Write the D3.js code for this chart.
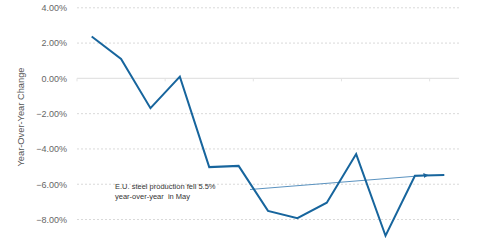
<!DOCTYPE html>
<html>
<head>
<meta charset="utf-8">
<script src="https://cdn.jsdelivr.net/npm/d3@7"></script>
<style>
  body { margin: 0; background: #fff; }
  svg { display: block; font-family: "Liberation Sans", Arial, sans-serif; }
</style>
</head>
<body>
<div id="chart"></div>
<script>
// monthly year-over-year change in E.U. steel production (%)
var months = ["May-15", "Jun-15", "Jul-15", "Aug-15", "Sep-15", "Oct-15", "Nov-15",
              "Dec-15", "Jan-16", "Feb-16", "Mar-16", "Apr-16", "May-16"];
var yoyChange = [2.37, 1.10, -1.69, 0.10, -5.03, -4.96, -7.51, -7.92, -7.05, -4.29, -8.92, -5.52, -5.47];
var yTicks = [4, 2, 0, -2, -4, -6, -8, -10];
var noteLines = ["E.U. steel production fell 5.5%", "year-over-year  in May"];

var width = 480, height = 251;
var margin = {top: 8, left: 77, right: 21};

var svg = d3.select("#chart").append("svg")
    .attr("width", width)
    .attr("height", height);

// Set the ranges
var x = d3.scaleBand()
    .domain(months)
    .range([margin.left, width - margin.right]);
var y = d3.scaleLinear()
    .domain([4, -10])
    .range([7.8, 254.8]);

// dashed gridlines
svg.append("g")
    .selectAll("line")
    .data(yTicks.filter(function(d) { return d !== 0; }))
    .join("line")
    .attr("x1", x.range()[0])
    .attr("x2", x.range()[1])
    .attr("y1", function(d) { return y(d); })
    .attr("y2", function(d) { return y(d); })
    .attr("stroke", "#d9d9d9")
    .attr("stroke-dasharray", "2,2");

// y labels
var yAxis = d3.axisLeft(y).tickValues(yTicks)
    .tickFormat(function(d) { return d3.format(".2f")(d) + "%"; })
    .tickSize(0).tickPadding(10);
svg.append("g")
    .attr("transform", "translate(" + margin.left + ",0)")
    .call(yAxis)
    .call(function(g) {
        g.select(".domain").remove();
        g.selectAll("text").attr("fill", "#666").attr("font-size", "9px")
            .attr("font-family", "Liberation Sans, Arial, sans-serif");
    });

// zero line with ticks every 3 months at band boundaries
var zeroY = y(0);
svg.append("line")
    .attr("x1", x.range()[0]).attr("x2", x.range()[1])
    .attr("y1", zeroY).attr("y2", zeroY)
    .attr("stroke", "#e3e3e3").attr("stroke-width", 1.2);
svg.append("g")
    .selectAll("line")
    .data(months.filter(function(d, i) { return i % 3 === 0; }))
    .join("line")
    .attr("x1", function(d) { return x(d); })
    .attr("x2", function(d) { return x(d); })
    .attr("y1", zeroY).attr("y2", zeroY + 3)
    .attr("stroke", "#e3e3e3");

// axis title
svg.append("text")
    .attr("transform", "translate(23.5," + 117 + ") rotate(-90)")
    .attr("text-anchor", "middle")
    .attr("font-size", "9.3px")
    .attr("fill", "#555")
    .text("Year-Over-Year Change");

// annotation
var note = svg.append("text")
    .attr("x", 115)
    .attr("y", 188.5)
    .attr("font-size", "7.5px")
    .attr("fill", "#333");
note.selectAll("tspan")
    .data(noteLines)
    .join("tspan")
    .attr("x", 115)
    .attr("dy", function(d, i) { return i === 0 ? 0 : 10; })
    .attr("xml:space", "preserve")
    .text(function(d) { return d; });

svg.append("defs").append("marker")
    .attr("id", "arrow")
    .attr("viewBox", "0 0 10 10")
    .attr("refX", 9).attr("refY", 5)
    .attr("markerWidth", 5).attr("markerHeight", 5)
    .attr("orient", "auto")
    .append("path")
    .attr("d", "M0,0L10,5L0,10z")
    .attr("fill", "#1a5f96");

svg.append("line")
    .attr("x1", 250).attr("y1", 189.5)
    .attr("x2", 428).attr("y2", 175.2)
    .attr("stroke", "#5b93c0")
    .attr("stroke-width", 1)
    .attr("marker-end", "url(#arrow)");

// Define the line
var valueline = d3.line()
    .x(function(d, i) { return x(months[i]) + x.bandwidth() / 2; })
    .y(function(d) { return y(d); });

svg.append("path")
    .datum(yoyChange)
    .attr("fill", "none")
    .attr("stroke", "#17659d")
    .attr("stroke-width", 2)
    .attr("stroke-linejoin", "miter")
    .attr("d", valueline);
</script>
</body>
</html>
